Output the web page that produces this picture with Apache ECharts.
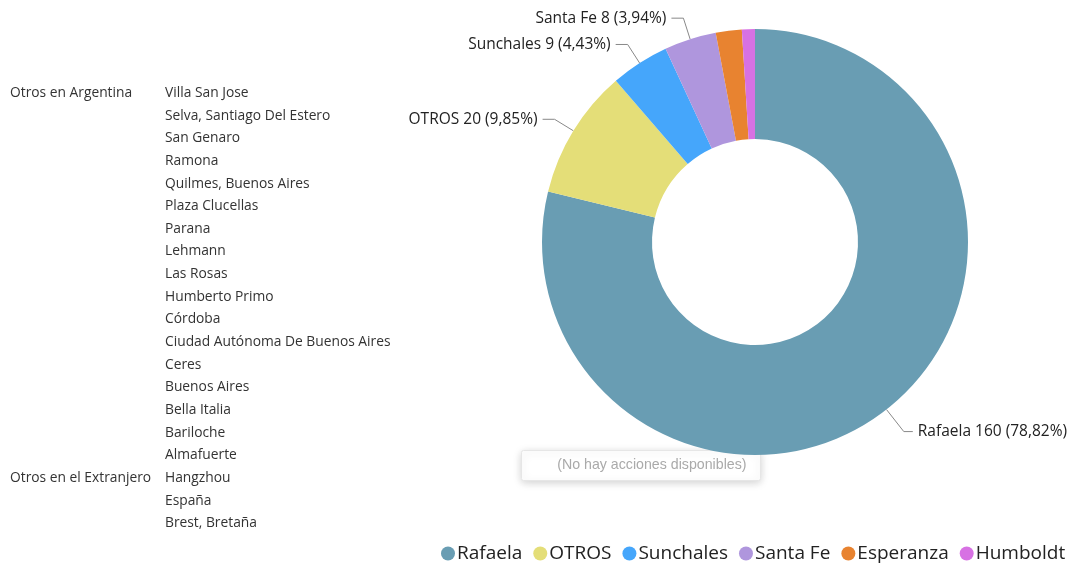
<!DOCTYPE html>
<html>
<head>
<meta charset="utf-8">
<script src="https://cdn.jsdelivr.net/npm/echarts@6/dist/echarts.min.js"></script>
<style>
	html, body { margin: 0; padding: 0; background: #fff; }
	#main { width: 1078px; height: 565px; }
</style>
</head>
<body>
<div id="main"></div>
<script>
// slices
const cities = ['Rafaela', 'OTROS', 'Sunchales', 'Santa Fe', 'Esperanza', 'Humboldt'];
const counts = [160, 20, 9, 8, 4, 2];
const colors = ['#699db3', '#e4de78', '#45a6fb', '#af96dd', '#e88330', '#d771e3'];
// only the bigger slices get a label
const showLabel = [true, true, true, true, false, false];

// list on the left
const groupArgentina = 'Otros en Argentina';
const otrosArgentina = ['Villa San Jose', 'Selva, Santiago Del Estero', 'San Genaro', 'Ramona',
	'Quilmes, Buenos Aires', 'Plaza Clucellas', 'Parana', 'Lehmann', 'Las Rosas', 'Humberto Primo',
	'Córdoba', 'Ciudad Autónoma De Buenos Aires', 'Ceres', 'Buenos Aires', 'Bella Italia',
	'Bariloche', 'Almafuerte'];
const groupExtranjero = 'Otros en el Extranjero';
const otrosExtranjero = ['Hangzhou', 'España', 'Brest, Bretaña'];

const noActions = '(No hay acciones disponibles)';

const myChart = echarts.init(document.getElementById('main'));

const listFont = '13.8px "Open Sans", sans-serif';
const rowH = 22.65;
const listTop = 94;
const listItems = [];
const rows = otrosArgentina.concat(otrosExtranjero);
listItems.push({ type: 'text', left: 10, top: listTop - 8, style: { text: groupArgentina, font: listFont, fill: '#333' } });
listItems.push({ type: 'text', left: 10, top: listTop - 8 + otrosArgentina.length * rowH, style: { text: groupExtranjero, font: listFont, fill: '#333' } });
rows.forEach((name, i) => {
	listItems.push({ type: 'text', left: 165, top: listTop - 8 + i * rowH, style: { text: name, font: listFont, fill: '#333' } });
});

// the empty actions box
listItems.push({
	type: 'group', left: 521, top: 450,
	children: [
		{ type: 'rect', shape: { x: 0, y: 0, width: 239, height: 30, r: 2 },
			style: { fill: '#fff', stroke: '#e6e6e6', shadowBlur: 8, shadowColor: 'rgba(0,0,0,0.18)', shadowOffsetY: 2 } },
		{ type: 'text', style: { x: 225, y: 15, text: noActions, align: 'right', verticalAlign: 'middle',
			font: '14.2px "Liberation Sans", Arial, sans-serif', fill: '#aaa' } }
	]
});

const option = {
	animation: false,
	color: colors,
	legend: {
		top: 539,
		left: 436,
		icon: 'circle',
		itemWidth: 14,
		itemHeight: 14,
		itemGap: 11,
		textStyle: { fontSize: 19, color: '#222', fontFamily: '"Open Sans", sans-serif', padding: [0, 0, 0, -3] },
		data: cities
	},
	graphic: listItems,
	series: [
		{
			type: 'pie',
			center: [755, 242],
			radius: [103, 213],
			startAngle: 90,
			label: {
				fontSize: 15.5,
				color: '#222',
				overflow: 'none',
				edgeDistance: 2,
				fontFamily: '"Open Sans", sans-serif',
				formatter: p => p.name + ' ' + p.value + ' (' + p.percent.toFixed(2).replace('.', ',') + '%)'
			},
			labelLine: { length: 22, length2: 12, lineStyle: { color: '#888', width: 1 } },
			emphasis: { disabled: true },
			data: cities.map((c, i) => ({
				name: c,
				value: counts[i],
				label: { show: showLabel[i] },
				labelLine: i === 0
					? { show: true, length: 28, length2: 9 }
					: { show: showLabel[i] }
			}))
		}
	]
};

myChart.setOption(option);
</script>
</body>
</html>
